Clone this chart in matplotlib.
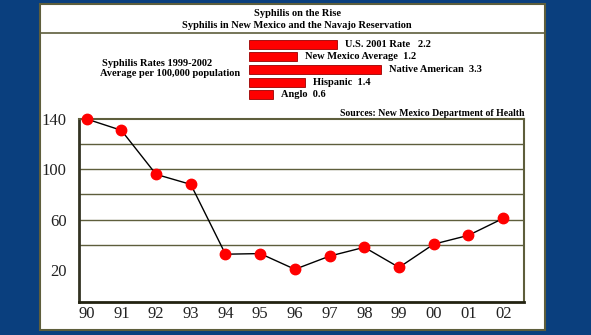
import matplotlib
matplotlib.use("Agg")
import matplotlib.pyplot as plt
from matplotlib.patches import Rectangle
from matplotlib.lines import Line2D

# yearly counts
years = ["90", "91", "92", "93", "94", "95", "96", "97", "98", "99", "00", "01", "02"]
cases = [140, 131, 96, 88, 32.5, 33, 20.5, 31, 38, 22, 40.5, 47.5, 61]

# rates 1999-2002 per 100,000
groups = ["U.S. 2001 Rate", "New Mexico Average", "Native American", "Hispanic", "Anglo"]
rates = [2.2, 1.2, 3.3, 1.4, 0.6]
rate_gaps = ["   ", "  ", "  ", "  ", "  "]

ytick_vals = [140, 100, 60, 20]
grid_vals = [40, 60, 80, 100, 120]

W, H = 591, 335
serif = ["Liberation Serif", "DejaVu Serif"]
olive = "#5e5e3c"

fig = plt.figure(figsize=(W / 100, H / 100), dpi=100)
fig.patch.set_facecolor("#0a3f7e")

def fx(px):
    return px / W

def fy(py):
    return 1 - py / H

# white panel
fig.patches.append(Rectangle((fx(40), fy(330)), fx(505), (326) / H,
                             transform=fig.transFigure, facecolor="white",
                             edgecolor=olive, linewidth=1.5, zorder=-10))
fig.lines.append(Line2D([fx(40), fx(545)], [fy(33), fy(33)],
                        transform=fig.transFigure, color=olive, lw=1.2, zorder=-5))

fig.text(fx(297), fy(14), "Syphilis on the Rise", ha="center", va="center",
         fontsize=7.5, fontweight="bold", family=serif)
fig.text(fx(297), fy(25), "Syphilis in New Mexico and the Navajo Reservation",
         ha="center", va="center", fontsize=7.5, fontweight="bold", family=serif)
fig.text(fx(102), fy(63), "Syphilis Rates 1999-2002", ha="left", va="center",
         fontsize=7.5, fontweight="bold", family=serif)
fig.text(fx(100), fy(73), "Average per 100,000 population", ha="left", va="center",
         fontsize=7.5, fontweight="bold", family=serif)
fig.text(fx(524), fy(114), "Sources: New Mexico Department of Health", ha="right",
         va="center", fontsize=7, fontweight="bold", family=serif)

# bar inset
bx = fig.add_axes([fx(249), fy(101), fx(200), (101 - 38) / H])
bx.set_xlim(0, 5)
bx.set_ylim(len(groups) - 0.5, -0.5)
pos = list(range(len(groups)))
bx.barh(pos, rates, height=0.7, color="#ff0000", edgecolor="#990000", linewidth=0.6)
for i, (g, r, gap) in enumerate(zip(groups, rates, rate_gaps)):
    bx.text(r + 0.2, i, f"{g}{gap}{r:.1f}", ha="left", va="center",
            fontsize=7.5, fontweight="bold", family=serif)
bx.axis("off")

# line chart
ax = fig.add_axes([fx(79), fy(302), fx(524 - 79), (302 - 119) / H])
ax.set_facecolor("white")
x = list(range(len(years)))
for g in grid_vals:
    ax.axhline(g, color=olive, lw=1, zorder=1)
ax.plot(x, cases, color="black", lw=1, zorder=3, clip_on=False)
ax.plot(x, cases, "o", color="#ff0000", markersize=7.5, zorder=4, clip_on=False)
ax.set_xlim(-0.22, 12.6)
ax.set_ylim(-5.5, 140)
ax.set_xticks(x)
ax.set_xticklabels(years, fontsize=12, family=serif, color="#222222")
ax.set_yticks(ytick_vals)
ax.set_yticklabels([str(v) for v in ytick_vals], fontsize=12, family=serif,
                   color="#222222")
ax.tick_params(which="both", length=0)
ax.tick_params(axis="y", pad=9)
ax.tick_params(axis="x", pad=3)
for s in ax.spines.values():
    s.set_color(olive)
    s.set_linewidth(1.5)
ax.spines["bottom"].set_color("#222211")
ax.spines["left"].set_color("#333322")
ax.spines["bottom"].set_linewidth(2)
ax.spines["left"].set_linewidth(2)

fig.savefig("out.png", dpi=100, facecolor=fig.get_facecolor())
